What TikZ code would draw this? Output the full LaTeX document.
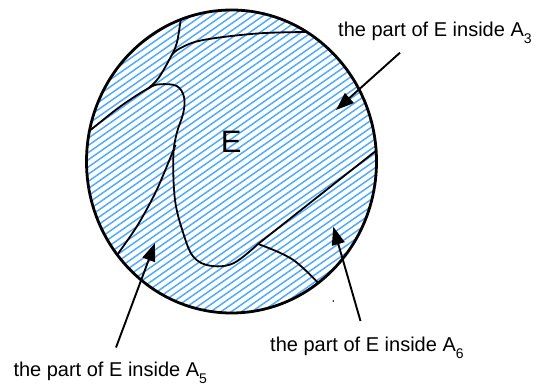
\documentclass[tikz,border=0pt]{standalone}
\usepackage{fontspec}
\setmainfont{Liberation Sans}
\usetikzlibrary{arrows.meta}
\definecolor{hatch}{RGB}{80,170,255}
\tikzset{
  region/.style={line width=1.8pt, black, line join=round},
  rim/.style={line width=2.8pt, black},
  pointer/.style={line width=1.9pt, black, -{Triangle[length=18pt,width=13pt]}},
  caption/.style={anchor=base west, inner sep=0pt, font=\fontsize{20}{24}\selectfont},
}
\newcommand{\subdig}[1]{\raisebox{-7pt}{\fontsize{14}{14}\selectfont #1}}
\begin{document}
\begin{tikzpicture}[x=1pt,y=-1pt]
\useasboundingbox (0,0) rectangle (541,385);
% hatching
\begin{scope}
  \clip (231.5,161.5) ellipse [x radius=145, y radius=151.5];
  \foreach \c in {0,7.2,...,560} {
    \draw[hatch, line width=1.5pt] (80,\c) -- (390,\c-217);
  }
  % region boundaries
  \draw[region] plot[smooth, tension=0.6] coordinates {(182,14) (180.7,20) (176.7,43.3) (170,58.3) (158.3,78.3) (148.3,88.3)};
  \draw[region] plot[smooth, tension=0.6] coordinates {(80,137) (88.3,131.7) (120,106.7) (148.3,88.3) (160,84.3) (176.7,86) (184,97) (183.3,113) (176.7,133.3) (173.3,156.7) (175,200) (183.3,233.3) (193.3,256.7) (210,265.7) (233.3,263.3) (258,244)} -- (382,146);
  \draw[region] plot[smooth, tension=0.6] coordinates {(316,32) (260,33.3) (203.3,40) (180,48.3) (171.7,55)};
  \draw[region] plot[smooth, tension=0.5] coordinates {(175.5,145) (156.7,190) (136.7,226.7) (112,262)};
  \draw[region] plot[smooth, tension=0.6] coordinates {(258,244) (293.3,260) (325,290)};
\end{scope}
\draw[rim] (231.5,161.5) ellipse [x radius=145, y radius=151.5];
\node[inner sep=0pt, font=\fontsize{31}{31}\selectfont] (E) at (231.3,142) {E};
% captions
\node[caption] (t3) at (338,36.7) {the part of E inside A\subdig{3}};
\node[caption] (t6) at (270,351.7) {the part of E inside A\subdig{6}};
\node[caption] (t5) at (13.3,376) {the part of E inside A\subdig{5}};
% arrows
\coordinate (a3s) at (400,52.7);
\coordinate (a3e) at (336,110);
\coordinate (a5s) at (116,347.5);
\coordinate (a5e) at (155,243);
\coordinate (a6s) at (360.5,321);
\coordinate (a6e) at (333.3,226.7);
\draw[pointer] (a3s) -- (a3e);
\draw[pointer] (a5s) -- (a5e);
\draw[pointer] (a6s) -- (a6e);
\fill (333.3,301) circle [radius=0.9];
\end{tikzpicture}
\end{document}
